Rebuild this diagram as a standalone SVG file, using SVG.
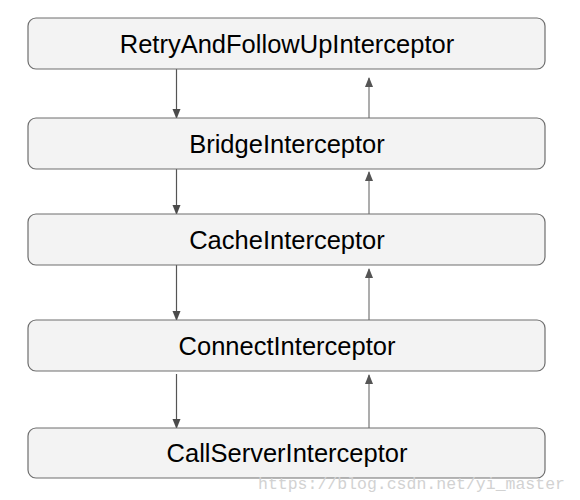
<svg xmlns="http://www.w3.org/2000/svg" width="580" height="500" viewBox="0 0 580 500">
<style>
.box{fill:#f3f3f3;stroke:#6e6e6e;stroke-width:1.2}
.lbl{font-family:"Liberation Sans",Arial,sans-serif;font-size:25.5px;fill:#000;text-anchor:middle}
.down{stroke:#555;stroke-width:1.2;fill:none}
.up{stroke:#999;stroke-width:1.6;fill:none}
.wm{font-family:"Liberation Mono","DejaVu Sans Mono",monospace;font-size:16.5px;fill:#d2d2d2}
</style>
<defs>
<marker id="ahD" markerWidth="10" markerHeight="10" refX="9" refY="4" orient="auto" markerUnits="userSpaceOnUse"><path d="M0,0 L10,4 L0,8 z" fill="#4a4a4a"/></marker>
<marker id="ahU" markerWidth="10" markerHeight="10" refX="9" refY="4" orient="auto" markerUnits="userSpaceOnUse"><path d="M0,0 L10,4 L0,8 z" fill="#555"/></marker>
</defs>
<rect width="580" height="500" fill="#fff"/>
<g id="connectors">
<line class="down" x1="176.5" y1="69" x2="176.5" y2="118" marker-end="url(#ahD)"/>
<line class="up" x1="369" y1="118" x2="369" y2="78" marker-end="url(#ahU)"/>
<line class="down" x1="176.5" y1="169" x2="176.5" y2="214" marker-end="url(#ahD)"/>
<line class="up" x1="369" y1="214" x2="369" y2="172" marker-end="url(#ahU)"/>
<line class="down" x1="176.5" y1="265" x2="176.5" y2="320" marker-end="url(#ahD)"/>
<line class="up" x1="369" y1="320" x2="369" y2="269" marker-end="url(#ahU)"/>
<line class="down" x1="176.5" y1="374" x2="176.5" y2="428" marker-end="url(#ahD)"/>
<line class="up" x1="369" y1="428" x2="369" y2="375" marker-end="url(#ahU)"/>
</g>
<g id="retry"><rect class="box" x="28" y="18" width="517" height="51" rx="8"/><text class="lbl" x="287" y="52.5">RetryAndFollowUpInterceptor</text></g>
<g id="bridge"><rect class="box" x="28" y="118" width="517" height="51" rx="8"/><text class="lbl" x="287" y="152.5">BridgeInterceptor</text></g>
<g id="cache"><rect class="box" x="28" y="214" width="517" height="51" rx="8"/><text class="lbl" x="287" y="248.5">CacheInterceptor</text></g>
<g id="connect"><rect class="box" x="28" y="320" width="517" height="51" rx="8"/><text class="lbl" x="287" y="354.5">ConnectInterceptor</text></g>
<g id="callserver"><rect class="box" x="28" y="428" width="517" height="50" rx="8"/><text class="lbl" x="287" y="462">CallServerInterceptor</text></g>
<text class="wm" x="258" y="489">https://blog.csdn.net/yi_master</text>
</svg>
